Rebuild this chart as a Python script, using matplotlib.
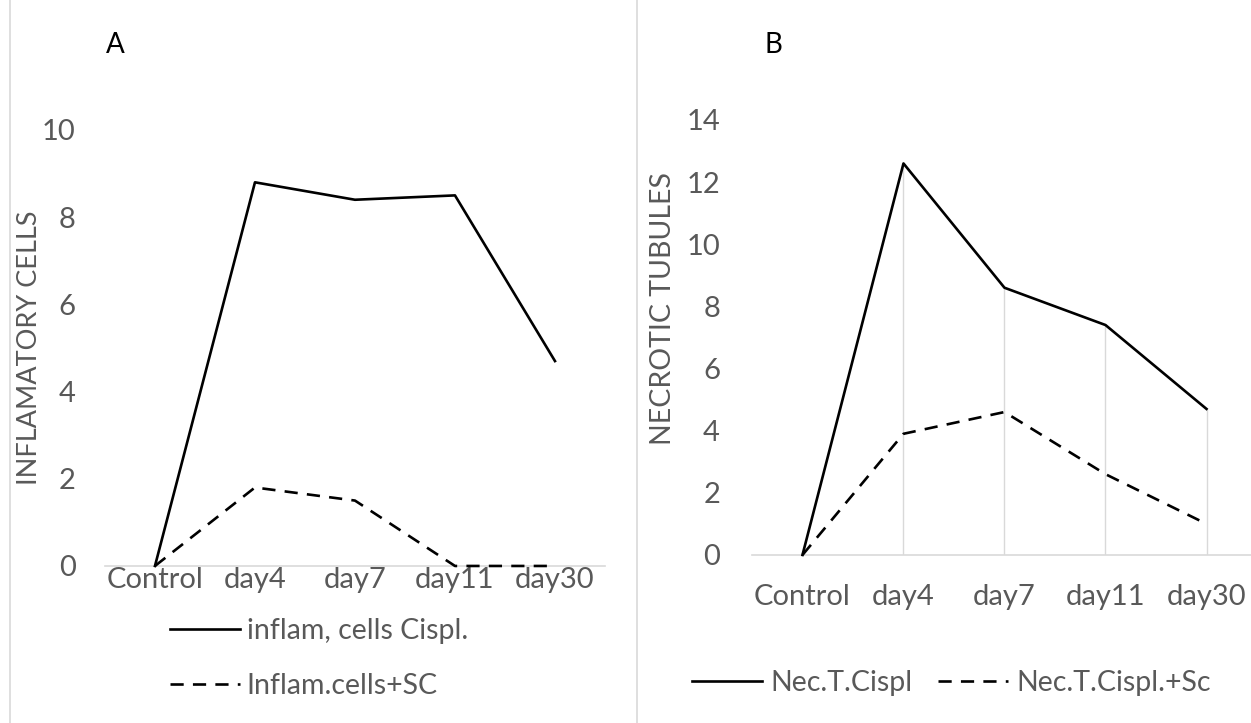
import matplotlib
matplotlib.use("Agg")
import matplotlib.pyplot as plt
from matplotlib.lines import Line2D

plt.rcParams['font.family'] = ['Lato', 'DejaVu Sans']

# Data
days = ['Control', 'day4', 'day7', 'day11', 'day30']
inflam_cispl = [0, 8.8, 8.4, 8.5, 4.7]
inflam_sc = [0, 1.8, 1.5, 0, 0]
nec_cispl = [0, 12.6, 8.6, 7.4, 4.7]
nec_sc = [0, 3.9, 4.6, 2.6, 1.0]

grey_txt = '#595959'
grey_line = '#d9d9d9'
dash = (0, (5, 3.5))

fig = plt.figure(figsize=(12.51, 7.23), dpi=100)


def style_axis(ax, ymax, step):
    ax.set_xlim(-0.5, len(days) - 0.5)
    ax.set_ylim(0, ymax)
    ax.set_yticks(range(0, ymax + 1, step))
    ax.set_xticks(range(len(days)))
    ax.set_xticklabels(days)
    for s in ['top', 'right', 'left']:
        ax.spines[s].set_visible(False)
    ax.spines['bottom'].set_color(grey_line)
    ax.spines['bottom'].set_linewidth(1.2)
    ax.tick_params(length=0, labelsize=21, colors=grey_txt)
    ax.patch.set_alpha(0)


# Panel A
axA = fig.add_axes([0.0839, 0.2172, 0.3997, 0.603])
x = list(range(len(days)))
axA.plot(x, inflam_cispl, color='black', lw=1.9, zorder=3, clip_on=False, label='inflam, cells Cispl.')
axA.plot(x, inflam_sc, color='black', lw=1.9, ls=dash, zorder=3, clip_on=False, label='Inflam.cells+SC')
style_axis(axA, 10, 2)
axA.tick_params(axis='x', pad=1)
axA.tick_params(axis='y', pad=21)
axA.set_ylabel('INFLAMATORY CELLS', fontsize=19.5, color=grey_txt)
axA.yaxis.set_label_coords(-0.125, 0.5)
axA.legend(loc='center left', bbox_to_anchor=(0.1247, 0.0892), bbox_transform=fig.transFigure,
           frameon=False, fontsize=20.5, handlelength=2.46, handletextpad=0.22,
           labelspacing=1.0, borderpad=0, labelcolor=grey_txt)

# Panel B
axB = fig.add_axes([0.6011, 0.2324, 0.4037, 0.6017])
axB.vlines(x[1:], 0, nec_cispl[1:], color=grey_line, lw=1.0)
axB.plot(x, nec_cispl, color='black', lw=1.9, zorder=3, clip_on=False, label='Nec.T.Cispl')
axB.plot(x, nec_sc, color='black', lw=1.9, ls=dash, zorder=3, clip_on=False, label='Nec.T.Cispl.+Sc')
style_axis(axB, 14, 2)
axB.tick_params(axis='x', pad=21)
axB.tick_params(axis='y', pad=23)
axB.set_ylabel('NECROTIC TUBULES', fontsize=20.5, color=grey_txt)
axB.yaxis.set_label_coords(-0.15, 0.566)
axB.legend(loc='center left', bbox_to_anchor=(0.542, 0.055), bbox_transform=fig.transFigure,
           frameon=False, fontsize=20.5, ncol=2, handlelength=2.46, handletextpad=0.3,
           columnspacing=0.88, borderpad=0, labelcolor=grey_txt)

# panel letters
fig.text(0.085, 0.938, 'A', fontsize=20, color='black', va='center')
fig.text(0.611, 0.938, 'B', fontsize=20, color='black', va='center')

# chart borders
fig.add_artist(Line2D([0.008, 0.008], [0.0, 1.0], color=grey_line, lw=1.2))
fig.add_artist(Line2D([0.509, 0.509], [0.0, 1.0], color=grey_line, lw=1.2))

fig.savefig('out.png', dpi=100)
